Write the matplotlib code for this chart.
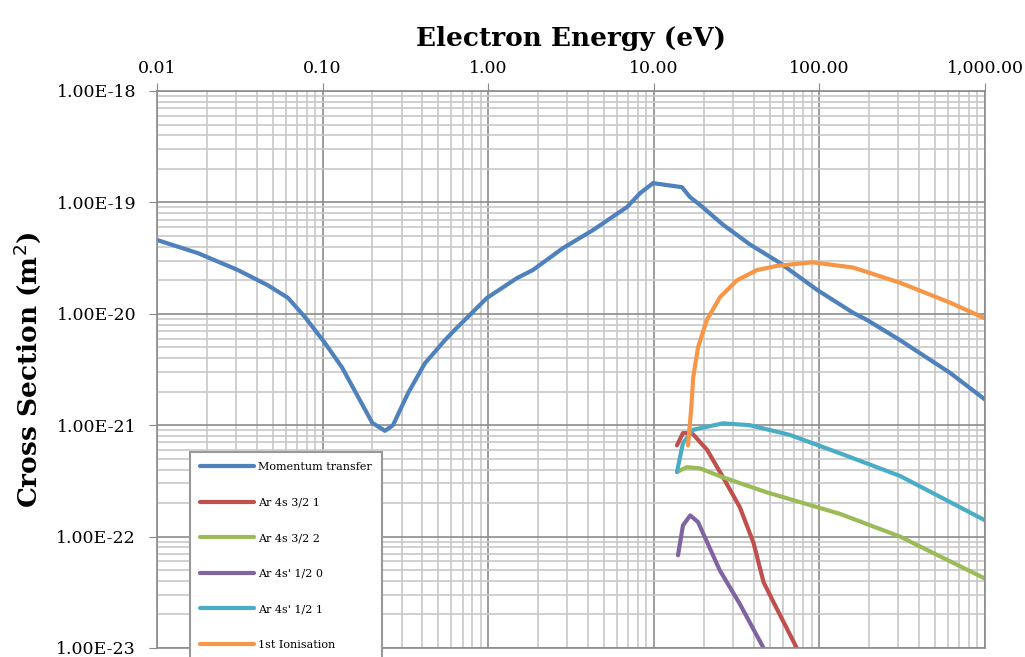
import matplotlib
matplotlib.use("Agg")
import matplotlib.pyplot as plt
from matplotlib.ticker import LogLocator, FuncFormatter, NullFormatter

plt.rcParams['font.family'] = ['DejaVu Serif']

# Momentum transfer
mt_e = [0.01, 0.0177, 0.0308, 0.0468, 0.0618, 0.078, 0.103, 0.131, 0.164, 0.1995,
        0.238, 0.266, 0.328, 0.415, 0.548, 0.63, 0.984, 1.49, 1.86, 2.83, 4.3, 6.9,
        8.26, 9.9, 12, 14.8, 16.5, 19, 26.2, 38, 57.8, 96.8, 160, 194, 307, 615, 1000]
mt_cs = [4.6e-20, 3.5e-20, 2.47e-20, 1.8e-20, 1.39e-20, 9.4e-21, 5.5e-21, 3.3e-21,
         1.79e-21, 1.05e-21, 8.9e-22, 1.0e-21, 1.94e-21, 3.6e-21, 5.8e-21, 7.2e-21,
         1.39e-20, 2.09e-20, 2.47e-20, 3.89e-20, 5.65e-20, 9.1e-20, 1.21e-19, 1.49e-19,
         1.43e-19, 1.37e-19, 1.12e-19, 9.5e-20, 6.3e-20, 4.2e-20, 2.86e-20, 1.64e-20,
         1.02e-20, 8.8e-21, 5.8e-21, 2.95e-21, 1.7e-21]

# Ar 4s 3/2 1
r1_e = [13.8, 15, 17, 21, 26.2, 33, 40, 46, 52, 73, 85]
r1_cs = [6.6e-22, 8.5e-22, 8.5e-22, 6.0e-22, 3.4e-22, 1.85e-22, 8.8e-23, 3.9e-23,
         2.7e-23, 1.0e-23, 7e-24]

# Ar 4s 3/2 2
r2_e = [13.8, 15.8, 19, 26.2, 48, 133, 307, 1000]
r2_cs = [3.8e-22, 4.2e-22, 4.1e-22, 3.4e-22, 2.5e-22, 1.6e-22, 1.0e-22, 4.2e-23]

# Ar 4s' 1/2 0
p0_e = [14, 15, 16.6, 18.5, 25, 33, 46, 55]
p0_cs = [6.8e-23, 1.26e-22, 1.55e-22, 1.35e-22, 5e-23, 2.5e-23, 1.0e-23, 7e-24]

# Ar 4s' 1/2 1
p1_e = [13.8, 15, 17.3, 26.2, 38, 66, 133, 307, 1000]
p1_cs = [3.8e-22, 6.9e-22, 9.1e-22, 1.04e-21, 1.0e-21, 8.2e-22, 5.6e-22, 3.5e-22, 1.4e-22]

# 1st Ionisation
ion_e = [16.1, 16.8, 17.3, 18.5, 20.9, 25.1, 31.8, 42, 56, 91, 160, 307, 615, 1000]
ion_cs = [6.6e-22, 1.37e-21, 2.7e-21, 5.0e-21, 8.8e-21, 1.41e-20, 2.0e-20, 2.47e-20,
          2.7e-20, 2.9e-20, 2.6e-20, 1.9e-20, 1.26e-20, 9.1e-21]

series = [
    ("Momentum transfer", mt_e, mt_cs, "#4F81BD"),
    ("Ar 4s 3/2 1", r1_e, r1_cs, "#C0504D"),
    ("Ar 4s 3/2 2", r2_e, r2_cs, "#9BBB59"),
    ("Ar 4s' 1/2 0", p0_e, p0_cs, "#8064A2"),
    ("Ar 4s' 1/2 1", p1_e, p1_cs, "#4BACC6"),
    ("1st Ionisation", ion_e, ion_cs, "#F79646"),
]

fig = plt.figure(figsize=(10.25, 6.57), dpi=100)
ax = fig.add_axes([157/1025, 1-648/657, 828/1025, 557/657])

for name, e, cs, col in series:
    ax.plot(e, cs, color=col, lw=3, label=name, solid_joinstyle='round',
            solid_capstyle='round')

ax.set_xscale('log')
ax.set_yscale('log')
ax.set_xlim(0.01, 1000)
ax.set_ylim(1e-23, 1e-18)

ax.xaxis.set_major_locator(LogLocator(base=10, numticks=10))
ax.xaxis.set_minor_locator(LogLocator(base=10, subs=range(2, 10), numticks=100))
ax.yaxis.set_major_locator(LogLocator(base=10, numticks=10))
ax.yaxis.set_minor_locator(LogLocator(base=10, subs=range(2, 10), numticks=100))
ax.xaxis.set_major_formatter(FuncFormatter(lambda v, p: f"{v:,.2f}"))
ax.yaxis.set_major_formatter(FuncFormatter(lambda v, p: f"{v:.2E}"))
ax.xaxis.set_minor_formatter(NullFormatter())
ax.yaxis.set_minor_formatter(NullFormatter())

ax.xaxis.tick_top()
ax.xaxis.set_label_position('top')
ax.tick_params(which='major', length=6, color='#888888', labelsize=12.5)
ax.tick_params(axis='x', which='major', pad=4)
ax.tick_params(axis='y', which='major', pad=9)
ax.tick_params(which='minor', length=0)

ax.grid(which='major', color='#8c8c8c', lw=1.2)
ax.grid(which='minor', color='#c8c8c8', lw=1.2)
ax.set_axisbelow(True)
for s in ax.spines.values():
    s.set_color('#8c8c8c')
    s.set_linewidth(1.2)

ax.set_xlabel('Electron Energy (eV)', fontsize=19, fontweight='bold', labelpad=10)
ax.set_ylabel('Cross Section (m$^2$)', fontsize=19, fontweight='bold', labelpad=10)

leg = ax.legend(loc='upper left', bbox_to_anchor=(190/1025, 1-452/657),
                bbox_transform=fig.transFigure, fontsize=8.0, labelspacing=2.3,
                handlelength=4.9, handletextpad=0.3, borderaxespad=0,
                borderpad=0.9, fancybox=False, framealpha=1, edgecolor='#999999')
leg.get_frame().set_linewidth(1.5)

fig.savefig('out.png', dpi=100)
